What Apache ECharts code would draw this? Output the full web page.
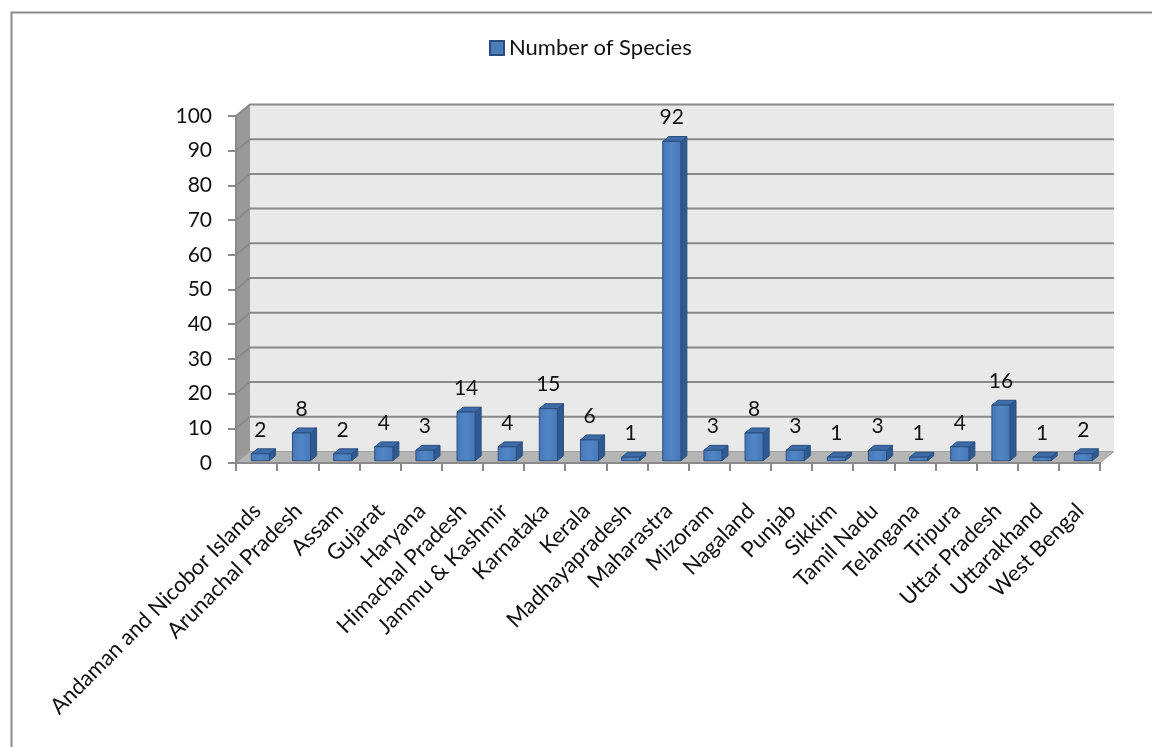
<!DOCTYPE html>
<html>
<head>
<meta charset="utf-8">
<script src="https://cdn.jsdelivr.net/npm/echarts@6/dist/echarts.min.js"></script>
<style>
  html, body { margin: 0; padding: 0; background: #ffffff; }
  #chart { width: 1152px; height: 747px; }
</style>
</head>
<body>
<div id="chart"></div>
<script>
const categories = [
  'Andaman and Nicobor Islands', 'Arunachal Pradesh', 'Assam', 'Gujarat', 'Haryana',
  'Himachal Pradesh', 'Jammu & Kashmir', 'Karnataka', 'Kerala', 'Madhayapradesh',
  'Maharastra', 'Mizoram', 'Nagaland', 'Punjab', 'Sikkim', 'Tamil Nadu',
  'Telangana', 'Tripura', 'Uttar Pradesh', 'Uttarakhand', 'West Bengal'
];
const speciesCounts = [2, 8, 2, 4, 3, 14, 4, 15, 6, 1, 92, 3, 8, 3, 1, 3, 1, 4, 16, 1, 2];
const yTickValues = [0, 10, 20, 30, 40, 50, 60, 70, 80, 90, 100];
const seriesName = 'Number of Species';

const FONT = 'Lato, "Open Sans", sans-serif';
const DEPTH_X = 14, DEPTH_Y = -11.5;   // 3D depth offset of the back wall
const BAR_FRONT = 0.2, BAR_BACK = 0.63; // bar position inside the depth
const BAR_WIDTH_RATIO = 0.44;

const chart = echarts.init(document.getElementById('chart'), null, { renderer: 'canvas' });

function renderWalls(params, api) {
  const cs = params.coordSys;
  const x = cs.x, y = cs.y, w = cs.width, h = cs.height;
  const children = [];
  children.push({ type: 'rect', shape: { x: x + DEPTH_X, y: y + DEPTH_Y, width: w, height: h },
    style: { fill: '#e9e9e9', stroke: null } });
  children.push({ type: 'polygon', shape: { points: [[x, y + h], [x, y], [x + DEPTH_X, y + DEPTH_Y], [x + DEPTH_X, y + h + DEPTH_Y]] },
    style: { fill: '#999999', stroke: null } });
  children.push({ type: 'polygon', shape: { points: [[x, y + h], [x + w, y + h], [x + w + DEPTH_X, y + h + DEPTH_Y], [x + DEPTH_X, y + h + DEPTH_Y]] },
    style: { fill: '#b5b5b5', stroke: '#a0a0a0', lineWidth: 1 } });
  yTickValues.forEach(function (t) {
    if (t === 0) return;
    const py = api.coord([0, t])[1];
    children.push({ type: 'polyline', shape: { points: [[x, py], [x + DEPTH_X, py + DEPTH_Y], [x + w + DEPTH_X, py + DEPTH_Y]] },
      style: { stroke: '#8a8a8a', lineWidth: 2, fill: null } });
  });
  return { type: 'group', children: children };
}

function renderBar(params, api) {
  const i = api.value(0), v = api.value(1);
  const base = api.coord([i, 0]);
  const top = api.coord([i, v]);
  const band = api.size([1, 0])[0];
  const bw = band * BAR_WIDTH_RATIO;
  const fx0 = base[0] - bw / 2 + BAR_FRONT * DEPTH_X + 1;
  const fx1 = fx0 + bw;
  const fyB = base[1] + BAR_FRONT * DEPTH_Y;
  const fyT = top[1] + BAR_FRONT * DEPTH_Y;
  const ddx = (BAR_BACK - BAR_FRONT) * DEPTH_X;
  const ddy = (BAR_BACK - BAR_FRONT) * DEPTH_Y;
  const edge = '#2b4f7e';
  return {
    type: 'group',
    children: [
      { type: 'polygon', shape: { points: [[fx1, fyT], [fx1, fyB], [fx1 + ddx, fyB + ddy], [fx1 + ddx, fyT + ddy]] },
        style: { fill: '#2f5a91', stroke: edge, lineWidth: 1 } },
      { type: 'polygon', shape: { points: [[fx0, fyT], [fx1, fyT], [fx1 + ddx, fyT + ddy], [fx0 + ddx, fyT + ddy]] },
        style: { fill: '#3d6ba8', stroke: edge, lineWidth: 1 } },
      { type: 'rect', shape: { x: fx0, y: fyT, width: bw, height: fyB - fyT },
        style: { fill: new echarts.graphic.LinearGradient(0, 0, 1, 0, [
          { offset: 0, color: '#4677b6' }, { offset: 0.5, color: '#5186c6' }, { offset: 1, color: '#4577b5' }]),
          stroke: edge, lineWidth: 1 } },
      { type: 'text', style: { text: String(v), x: (fx0 + fx1) / 2, y: fyT + ddy - 19,
        align: 'center', verticalAlign: 'middle', fontSize: 21, fontFamily: FONT, fill: '#111111' } }
    ]
  };
}

const option = {
  backgroundColor: '#ffffff',
  animation: false,
  graphic: [
    { type: 'rect', left: 9, top: 10, shape: { x: 0, y: 0, width: 1170, height: 760 },
      style: { fill: null, stroke: '#8a8a8a', lineWidth: 2 }, z: 0 }
  ],
  legend: {
    data: [seriesName],
    left: 484, top: 32,
    icon: 'rect', itemWidth: 14, itemHeight: 14, itemGap: 6,
    textStyle: { fontSize: 22, fontFamily: FONT, color: '#111111' }
  },
  grid: { left: 236, right: 52, top: 116, bottom: 284, containLabel: false },
  xAxis: {
    type: 'category',
    data: categories,
    z: 5,
    axisLine: { show: true, lineStyle: { color: '#8a8a8a', width: 2 } },
    axisTick: { show: true, length: 8, lineStyle: { color: '#8a8a8a', width: 2 } },
    axisLabel: { interval: 0, rotate: 45, margin: 45, padding: [0, -1, 0, 0],
      fontSize: 22, fontFamily: FONT, color: '#111111' },
    splitLine: { show: false }
  },
  yAxis: {
    type: 'value',
    min: yTickValues[0], max: yTickValues[yTickValues.length - 1], interval: 10,
    z: 5,
    axisLine: { show: true, lineStyle: { color: '#8a8a8a', width: 2 } },
    axisTick: { show: true, length: 8, lineStyle: { color: '#8a8a8a', width: 2 } },
    axisLabel: { margin: 24, fontSize: 21, fontFamily: FONT, color: '#111111' },
    splitLine: { show: false }
  },
  series: [
    { type: 'custom', z: 1, silent: true, renderItem: renderWalls, data: [[0, 0]],
      encode: { x: 0, y: 1 }, clip: false },
    { type: 'custom', name: seriesName, z: 2, renderItem: renderBar,
      itemStyle: { color: '#4a7ebb', borderColor: '#2b4f7e', borderWidth: 1 },
      encode: { x: 0, y: 1 }, clip: false,
      data: speciesCounts.map(function (v, i) { return [i, v]; }) }
  ]
};
chart.setOption(option);
</script>
</body>
</html>
